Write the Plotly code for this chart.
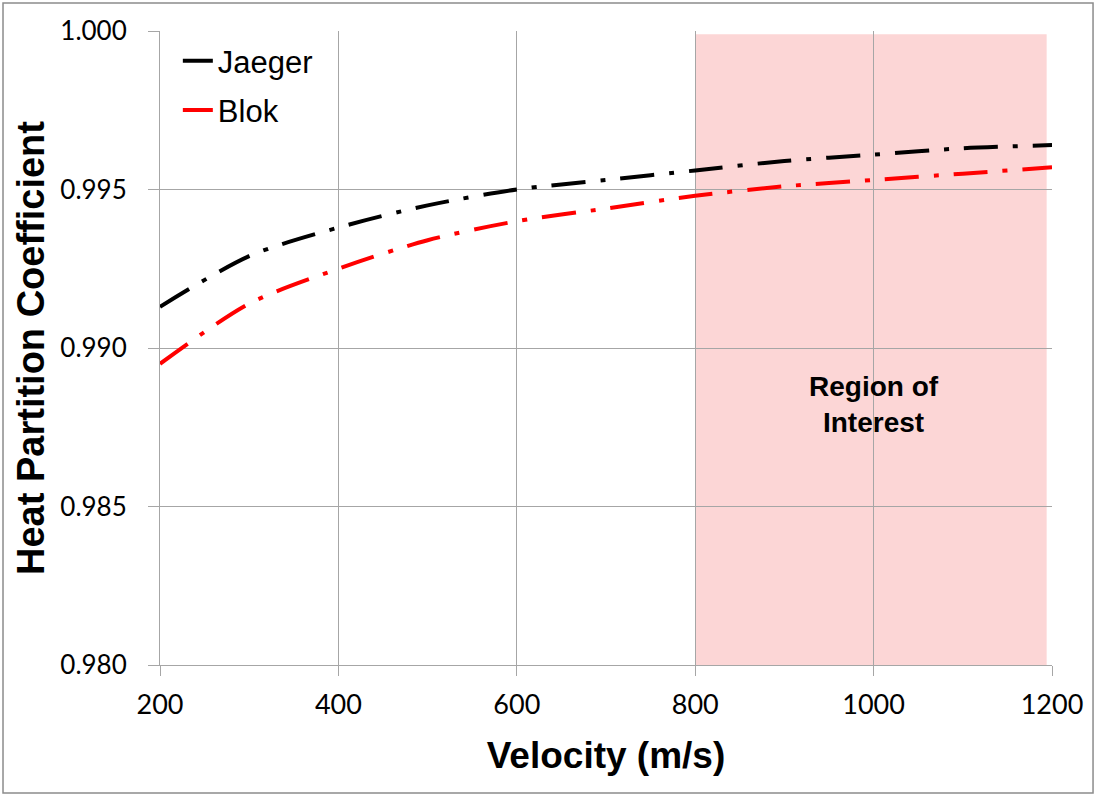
import plotly.graph_objects as go

# Velocity (m/s) and heat partition coefficient for the two models
velocity = [200, 300, 400, 500, 600, 700, 800, 900, 1000, 1100, 1200]
jaeger = [0.9913, 0.9929, 0.9938, 0.9945, 0.9950, 0.9953, 0.9956, 0.9959, 0.9961, 0.9963, 0.9964]
blok = [0.9895, 0.9914, 0.9925, 0.9934, 0.9940, 0.9944, 0.9948, 0.9951, 0.9953, 0.9955, 0.9957]

# Shaded band for the velocity range of interest
region_x = [800, 1194]
region_y = [0.980, 0.9999]

x_ticks = [200, 400, 600, 800, 1000, 1200]
y_ticks = [0.980, 0.985, 0.990, 0.995, 1.000]

dash_pattern = "34px,15px,5px,15px"
title_font = "Liberation Sans Narrow, Arial Narrow, Liberation Sans, Arial"
tick_font = "Lato, Open Sans, Arial"

fig = go.Figure()

fig.add_trace(go.Scatter(
    x=velocity, y=jaeger, mode="lines", name="Jaeger", showlegend=False,
    line=dict(color="#000000", width=4, dash=dash_pattern, shape="spline", smoothing=0.8),
))
fig.add_trace(go.Scatter(
    x=velocity, y=blok, mode="lines", name="Blok", showlegend=False,
    line=dict(color="#FF0000", width=4, dash=dash_pattern, shape="spline", smoothing=0.8),
))
# Legend entries with solid keys
fig.add_trace(go.Scatter(x=[None], y=[None], mode="lines", name="Jaeger", legendgroup="j",
                         line=dict(color="#000000", width=4)))
fig.add_trace(go.Scatter(x=[None], y=[None], mode="lines", name="Blok", legendgroup="b",
                         line=dict(color="#FF0000", width=4)))

fig.add_shape(type="rect", xref="x", yref="y",
              x0=region_x[0], x1=region_x[1], y0=region_y[0], y1=region_y[1],
              fillcolor="#FCD6D6", line=dict(width=0), layer="below")

fig.add_annotation(x=1000, y=0.98823, xref="x", yref="y",
                   text="<b>Region of<br>Interest</b>", showarrow=False,
                   font=dict(family="Liberation Sans, Arial", size=28, color="#000000"),
                   align="center")

# Outer frame around the whole figure
fig.add_shape(type="rect", xref="paper", yref="paper",
              x0=-0.176, x1=1.046, y0=-0.2019, y1=1.0442,
              line=dict(color="#8C8C8C", width=1.5), fillcolor="rgba(0,0,0,0)")

fig.update_layout(
    width=1097, height=796,
    margin=dict(l=160, r=45, t=31, b=131),
    paper_bgcolor="#FFFFFF", plot_bgcolor="#FFFFFF",
    showlegend=True,
    legend=dict(x=0.02, y=0.995, xanchor="left", yanchor="top",
                bgcolor="rgba(0,0,0,0)", borderwidth=0,
                font=dict(family="Liberation Sans, Arial", size=31, color="#000000"),
                itemwidth=30, tracegroupgap=6),
)

fig.update_xaxes(
    range=[200, 1200], tickvals=x_ticks, ticktext=[str(v) for v in x_ticks],
    showgrid=True, gridcolor="#A6A6A6", gridwidth=1,
    showline=True, linecolor="#A6A6A6", linewidth=1, mirror=False,
    ticks="outside", ticklen=10, tickcolor="#A6A6A6",
    ticklabelstandoff=6,
    tickfont=dict(family=tick_font, size=27, color="#000000"),
    zeroline=False,
    title=dict(text="<b>Velocity (m/s)</b>", standoff=22,
               font=dict(family=title_font, size=37, color="#000000")),
)
fig.update_yaxes(
    range=[0.980, 1.000], tickvals=y_ticks, ticktext=[f"{v:.3f}" for v in y_ticks],
    showgrid=True, gridcolor="#A6A6A6", gridwidth=1,
    showline=True, linecolor="#A6A6A6", linewidth=1,
    ticks="outside", ticklen=11, tickcolor="#A6A6A6",
    ticklabelstandoff=16,
    tickfont=dict(family=tick_font, size=26, color="#000000"),
    zeroline=False,
    title=dict(text="<b>Heat Partition Coefficient</b>", standoff=4,
               font=dict(family=title_font, size=38, color="#000000")),
)

fig.write_html("out.html")
